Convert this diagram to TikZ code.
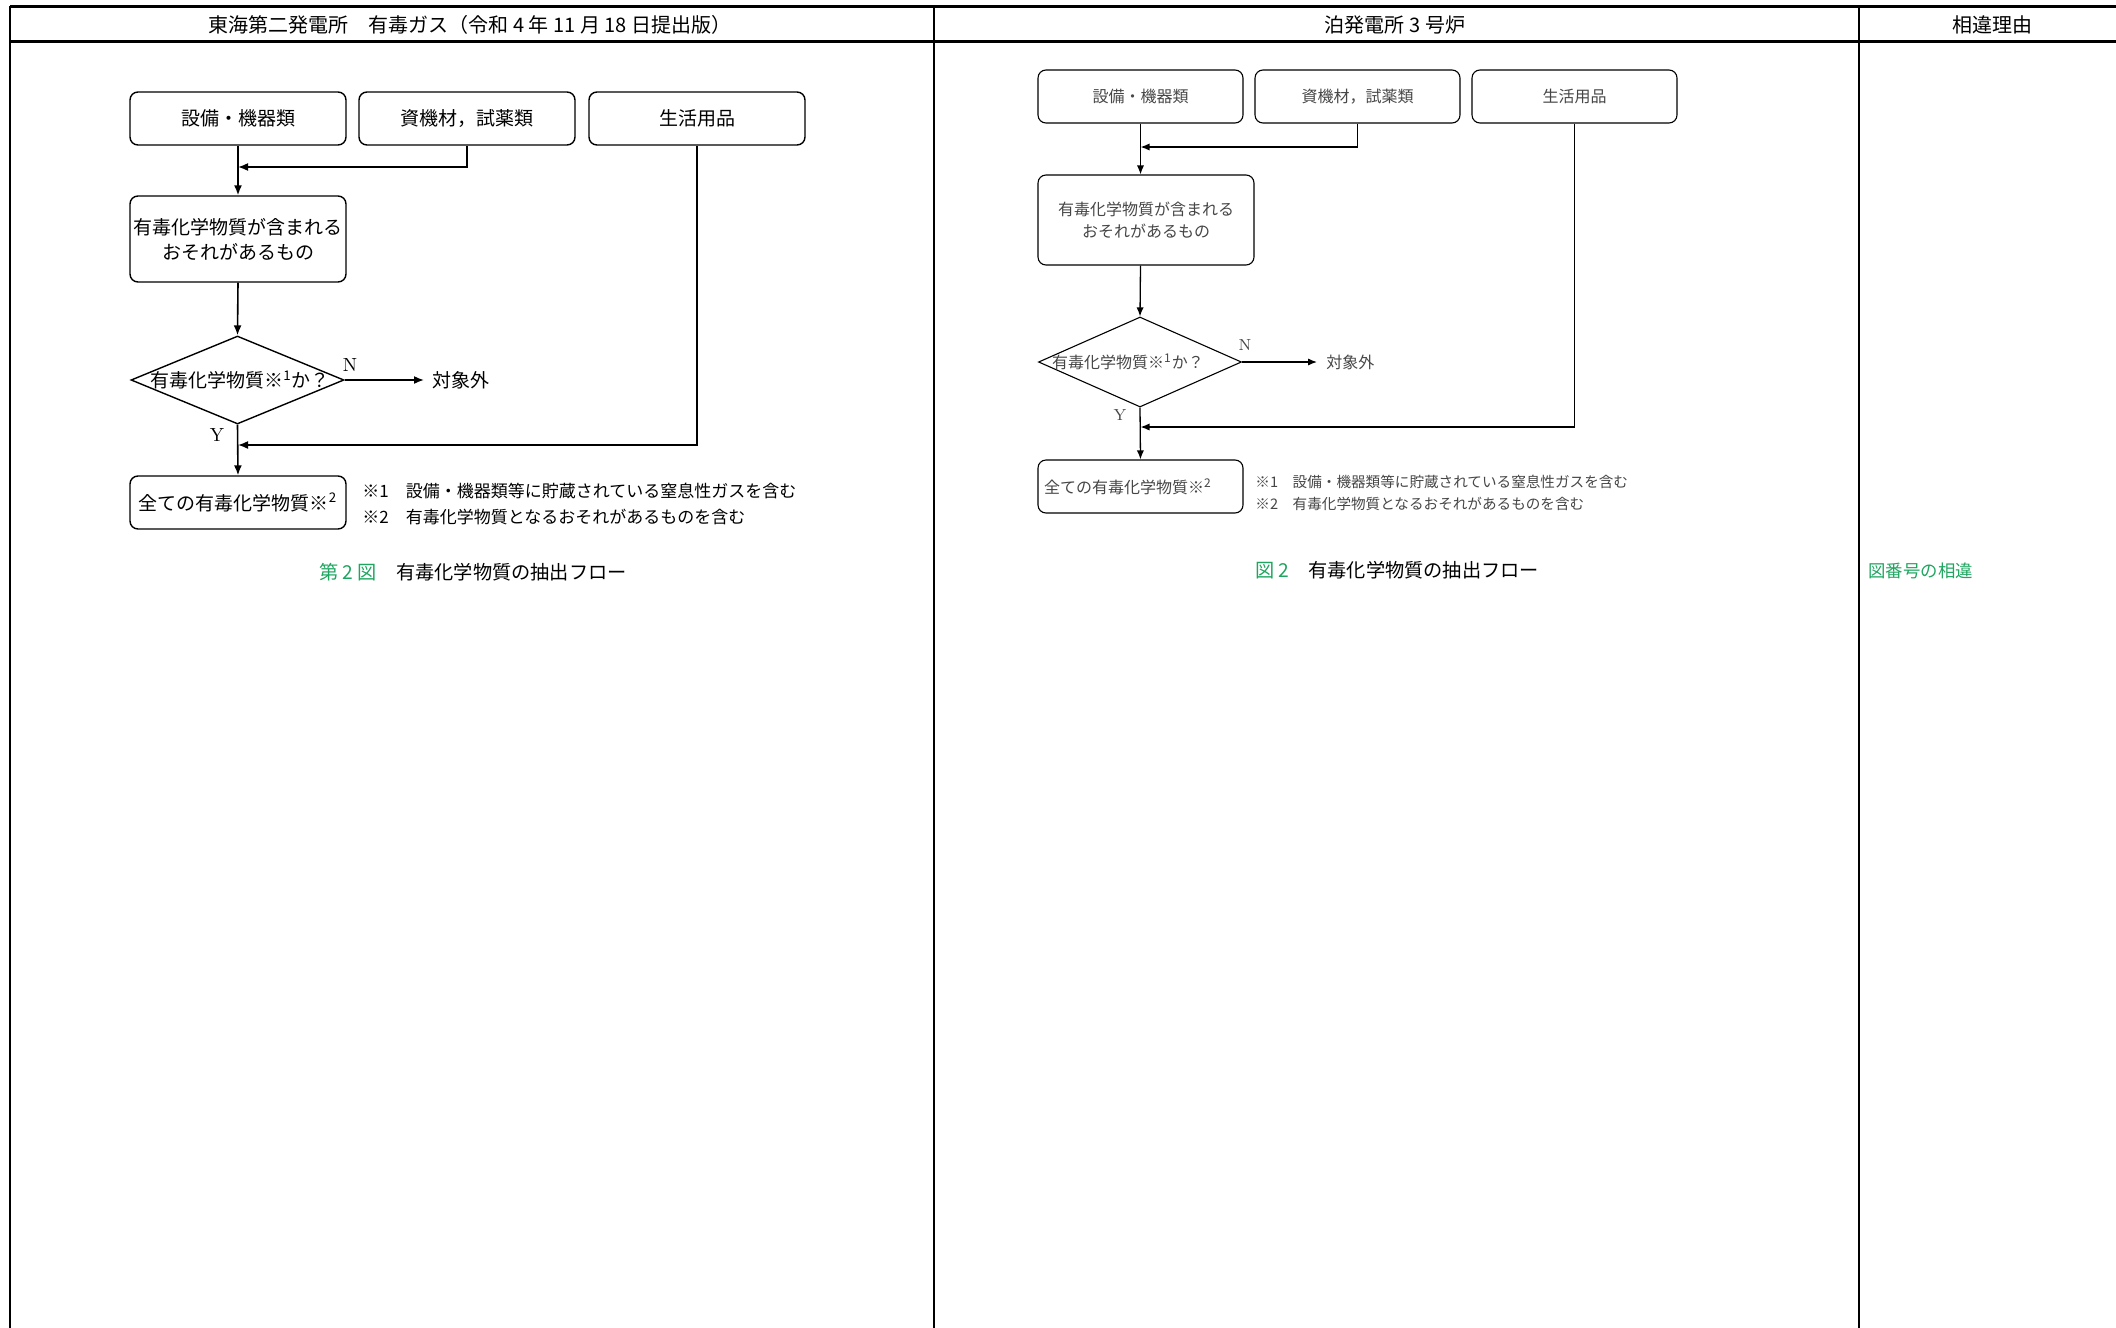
\documentclass[tikz,border=0pt]{standalone}
\usepackage{fontspec}
\newfontfamily\jp{Noto Sans CJK JP}
\usetikzlibrary{arrows.meta,shapes.geometric}
\definecolor{capgreen}{RGB}{30,165,95}
\definecolor{rgray}{RGB}{70,70,70}
\begin{document}
\begin{tikzpicture}[x=0.5pt,y=-0.5pt,
  tline/.style={line width=1.5pt},
  vline/.style={line width=0.7pt},
  hdr/.style={font=\jp\fontsize{10}{12}\selectfont, inner sep=0pt},
  lbox/.style={draw, rounded corners=4pt, line width=0.7pt, inner sep=0pt, align=center, font=\jp\fontsize{9.5}{12.5}\selectfont, minimum width=108pt},
  rbox/.style={draw, rounded corners=4pt, line width=0.55pt, inner sep=0pt, align=center, text=rgray, font=\jp\fontsize{8}{11}\selectfont, minimum width=102.5pt},
  ldia/.style={draw, diamond, line width=0.7pt, inner sep=0pt},
  rdia/.style={draw, diamond, line width=0.55pt, inner sep=0pt},
  ltxt/.style={inner sep=0pt, font=\jp\fontsize{9.5}{12}\selectfont},
  rtxt/.style={inner sep=0pt, text=rgray, font=\jp\fontsize{8}{10}\selectfont},
  lnote/.style={inner sep=0pt, anchor=west, font=\jp\fontsize{8.5}{11}\selectfont},
  rnote/.style={inner sep=0pt, anchor=west, text=rgray, font=\jp\fontsize{7.3}{9}\selectfont},
  figcap/.style={inner sep=0pt, font=\jp\fontsize{9.6}{12}\selectfont},
  yn/.style={inner sep=0pt, font=\fontsize{9.5}{11}\selectfont},
  ryn/.style={inner sep=0pt, text=rgray, font=\fontsize{8}{10}\selectfont},
  larr/.style={-{Latex[length=5pt,width=4pt]}, line width=0.8pt},
  rarr/.style={-{Latex[length=4.5pt,width=3.6pt]}, line width=0.65pt}
]
\useasboundingbox (0,0) rectangle (2116,1328);

% ---------- table ----------
\draw[tline] (10,6) -- (2116,6);
\draw[tline] (10,41) -- (2116,41);
\draw[vline] (10,6) -- (10,1328);
\draw[vline] (934,6) -- (934,1328);
\draw[vline] (1859,6) -- (1859,1328);
\node[hdr] (h1) at (470,25) {東海第二発電所　有毒ガス（令和 4 年 11 月 18 日提出版）};
\node[hdr] (h2) at (1395,25) {泊発電所 3 号炉};
\node[hdr] (h3) at (1992,25) {相違理由};

% ---------- left chart ----------
\node[lbox, minimum height=26.5pt] (A) at (238,118.5) {設備・機器類};
\node[lbox, minimum height=26.5pt] (B) at (467,118.5) {資機材，試薬類};
\node[lbox, minimum height=26.5pt] (C) at (697,118.5) {生活用品};
\node[lbox, minimum height=43pt] (D) at (238,239) {有毒化学物質が含まれる\\おそれがあるもの};
\node[ldia, minimum width=106.5pt, minimum height=44pt] (Q) at (237.5,380) {};
\node[ltxt] (Qt) at (240,380) {有毒化学物質※\textsuperscript{1}か？};
\node[lbox, minimum height=26.5pt] (E) at (238,502.5) {全ての有毒化学物質※\textsuperscript{2}};
\coordinate (m1) at (238,167);
\coordinate (m2) at (238,445);
\coordinate (xo) at (424,380);
\node[ltxt, anchor=west] (X) at (432,380) {対象外};
\node[yn] (N) at (350,365) {N};
\node[yn] (Y) at (217,435) {Y};

\draw[larr] (A.south) -- (D.north);
\draw[larr] (B.south) |- (m1);
\draw[larr] (D.south) -- (Q.north);
\draw[larr] (Q.east) -- (xo);
\draw[larr] (Q.south) -- (E.north);
\draw[larr] (C.south) |- (m2);

\node[lnote] (n1) at (362,491) {※1\quad 設備・機器類等に貯蔵されている窒息性ガスを含む};
\node[lnote] (n2) at (362,517) {※2\quad 有毒化学物質となるおそれがあるものを含む};
\node[figcap] (cap1) at (473,572) {\textcolor{capgreen}{第 2 図}\quad 有毒化学物質の抽出フロー};

% ---------- right chart ----------
\node[rbox, minimum height=26.5pt] (RA) at (1140.5,96.5) {設備・機器類};
\node[rbox, minimum height=26.5pt] (RB) at (1357.5,96.5) {資機材，試薬類};
\node[rbox, minimum height=26.5pt] (RC) at (1574.5,96.5) {生活用品};
\node[rbox, minimum width=108pt, minimum height=45pt] (RD) at (1146,220) {有毒化学物質が含まれる\\おそれがあるもの};
\node[rdia, minimum width=101.5pt, minimum height=45pt] (RQ) at (1140,362) {};
\node[rtxt] (RQt) at (1128,362) {有毒化学物質※\textsuperscript{1}か？};
\node[rbox, minimum height=26.5pt] (RE) at (1140.5,486.5) {};
\node[rtxt] (REt) at (1128,486.5) {全ての有毒化学物質※\textsuperscript{2}};
\coordinate (rm1) at (1140.5,147);
\coordinate (rm2) at (1140.5,427);
\coordinate (rxo) at (1317,362);
\node[rtxt, anchor=west] (RX) at (1326,362) {対象外};
\node[ryn] (RN) at (1245,345) {N};
\node[ryn] (RY) at (1120,415) {Y};

\draw[rarr] (RA.south) -- (RA.south |- RD.north);
\draw[rarr] (RB.south) |- (rm1);
\draw[rarr] (RA.south |- RD.south) -- (RQ.north);
\draw[rarr] (RQ.east) -- (rxo);
\draw[rarr] (RQ.south) -- (RE.north);
\draw[rarr] (RC.south) |- (rm2);

\node[rnote] (rn1) at (1255,482) {※1\quad 設備・機器類等に貯蔵されている窒息性ガスを含む};
\node[rnote] (rn2) at (1255,504) {※2\quad 有毒化学物質となるおそれがあるものを含む};
\node[figcap] (cap2) at (1397,570) {\textcolor{capgreen}{図 2}\quad 有毒化学物質の抽出フロー};

\node[inner sep=0pt, anchor=west, text=capgreen, font=\jp\fontsize{8.7}{11}\selectfont] (g1) at (1868,571) {図番号の相違};
\end{tikzpicture}
\end{document}
